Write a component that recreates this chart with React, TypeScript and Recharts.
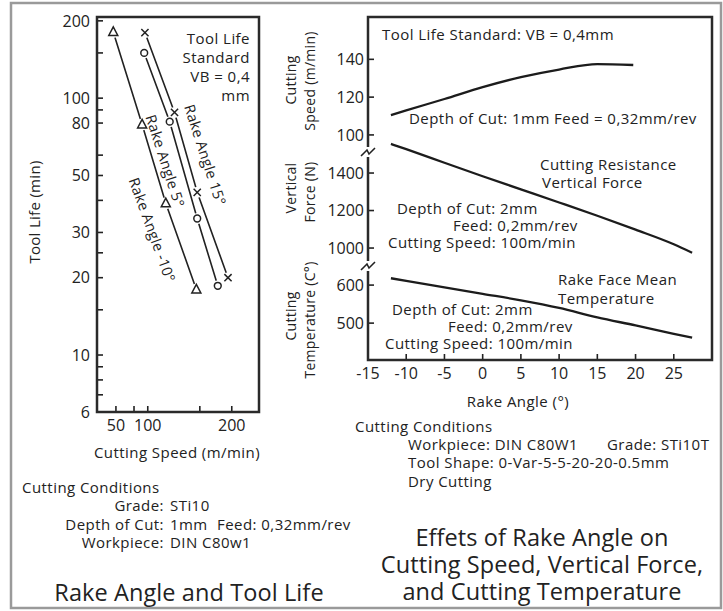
import React from 'react';
import { LineChart, Line, XAxis, YAxis } from 'recharts';

// ---------- Left chart: Rake Angle and Tool Life ----------
const speedRake15 = [96, 135, 162, 196];
const lifeRake15 = [180, 88, 43, 20];
const speedRake5 = [95, 129, 162, 185];
const lifeRake5 = [150, 81, 34, 18.6];
const speedRakeM10 = [45, 92, 124, 161];
const lifeRakeM10 = [181, 79, 39, 18];
const lifeTicks = [6, 7, 8, 9, 10, 15, 20, 25, 30, 40, 50, 60, 80, 90, 100, 150, 200];
const lifeTickLabels = [6, 10, 20, 30, 50, 80, 100, 200];
const speedTicks = [50, 80, 100, 165, 200];
const speedTickLabels = [50, 100, 200];

// ---------- Right chart: effects of rake angle ----------
const speedAngles = [-12, -10, -5, 0, 5, 10, 15, 19.7];
const cuttingSpeed = [110.5, 113, 119, 125.3, 130.6, 134.6, 137.5, 137];
const forceAngles = [-12, -10, -5, 0, 5, 10, 15, 20, 25, 27.4];
const verticalForce = [1555, 1527, 1455, 1383, 1313, 1243, 1172, 1098, 1020, 975];
const temperature = [618, 611, 594, 577, 560, 540, 515, 494, 472, 462];
const rakeTicks = [-15, -10, -5, 0, 5, 10, 15, 20, 25];
const speedYTicks = [100, 120, 140];
const forceYTicks = [1000, 1200, 1400];
const tempYTicks = [500, 600];

const FONT = '"Open Sans", "Noto Sans", sans-serif';
const INK = '#222';

const toPts = (xs: number[], ys: number[]) => xs.map((s, i) => ({ speed: s, life: ys[i] }));
const toAng = (xs: number[], ys: number[]) => xs.map((a, i) => ({ angle: a, v: ys[i] }));

function powScale(exp: number): any {
  let d = [1, 2];
  let r = [0, 1];
  const f = (v: number) => Math.sign(v) * Math.pow(Math.abs(v), exp);
  const s: any = (v: any) => {
    const t = (f(+v) - f(d[0])) / (f(d[1]) - f(d[0]));
    return r[0] + t * (r[1] - r[0]);
  };
  s.domain = (x?: any) => {
    if (x === undefined) return d.slice();
    d = Array.from(x).map(Number);
    return s;
  };
  s.range = (x?: any) => {
    if (x === undefined) return r.slice();
    r = Array.from(x).map(Number);
    return s;
  };
  s.copy = () => powScale(exp).domain(d).range(r);
  s.invert = (px: number) => {
    const t = (px - r[0]) / (r[1] - r[0]);
    const u = f(d[0]) + t * (f(d[1]) - f(d[0]));
    return Math.sign(u) * Math.pow(Math.abs(u), 1 / exp);
  };
  s.ticks = (n = 5) => {
    const out: number[] = [];
    for (let i = 0; i <= n; i++) out.push(d[0] + ((d[1] - d[0]) * i) / n);
    return out;
  };
  s.tickFormat = () => (v: any) => String(v);
  s.nice = () => s;
  s.clamp = () => s;
  return s;
}

const makeLeftTick = (labels: number[], len: number, gap: number) => (props: any) => {
  const { x, y, payload } = props;
  const v = payload.value;
  return (
    <g>
      <line x1={x} y1={y} x2={x + len} y2={y} stroke={INK} strokeWidth={1.6} />
      {labels.includes(v) && (
        <text x={x - gap} y={y} dy="0.36em" textAnchor="end" fontFamily={FONT} fontSize={16} fill={INK}>
          {v}
        </text>
      )}
    </g>
  );
};

const makeBottomTick = (labels: number[], len: number, off: number, skipLine: number[]) => (props: any) => {
  const { x, y, payload } = props;
  const v = payload.value;
  return (
    <g>
      {!skipLine.includes(v) && <line x1={x} y1={y} x2={x} y2={y - len} stroke={INK} strokeWidth={1.6} />}
      {labels.includes(v) && (
        <text x={x} y={y + off} dy="0.36em" textAnchor="middle" fontFamily={FONT} fontSize={16} fill={INK}>
          {v}
        </text>
      )}
    </g>
  );
};

const crossDot = (p: any) => {
  const { cx, cy, index } = p;
  const a = 3.6;
  return (
    <g key={`c${index}`}>
      <circle cx={cx} cy={cy} r={5.5} fill="#fff" />
      <path d={`M${cx - a},${cy - a}L${cx + a},${cy + a}M${cx - a},${cy + a}L${cx + a},${cy - a}`} stroke={INK} strokeWidth={1.5} />
    </g>
  );
};
const circleDot = (p: any) => {
  const { cx, cy, index } = p;
  return (
    <g key={`o${index}`}>
      <circle cx={cx} cy={cy} r={5.5} fill="#fff" />
      <circle cx={cx} cy={cy} r={3.4} fill="#fff" stroke={INK} strokeWidth={1.5} />
    </g>
  );
};
const triDot = (p: any) => {
  const { cx, cy, index } = p;
  return (
    <g key={`t${index}`}>
      <circle cx={cx} cy={cy} r={6} fill="#fff" />
      <path d={`M${cx},${cy - 5}L${cx + 4.5},${cy + 3.5}L${cx - 4.5},${cy + 3.5}Z`} fill="#fff" stroke={INK} strokeWidth={1.5} />
    </g>
  );
};

function RightChart({ data, domain, ticks, showX }: { data: any[]; domain: number[]; ticks: number[]; showX: boolean }) {
  return (
    <div style={{ position: 'absolute', left: 0, top: 0 }}>
      <LineChart width={723} height={400} margin={{ top: 17, right: 11, bottom: 0, left: 308 }}>
        <XAxis
          type="number"
          dataKey="angle"
          domain={[-15, 30]}
          ticks={rakeTicks}
          interval={0}
          allowDataOverflow
          height={40}
          axisLine={false}
          tickLine={false}
          tickSize={0}
          tickMargin={0}
          tick={showX ? makeBottomTick(rakeTicks, 6, 13, [-15]) : false}
        />
        <YAxis
          type="number"
          domain={domain}
          ticks={ticks}
          interval={0}
          allowDataOverflow
          width={60}
          axisLine={false}
          tickLine={false}
          tickSize={0}
          tickMargin={0}
          tick={makeLeftTick(ticks, 6, 4)}
        />
        <Line
          data={data}
          dataKey="v"
          type="monotone"
          stroke="#1c1c1c"
          strokeWidth={2.3}
          dot={false}
          isAnimationActive={false}
        />
      </LineChart>
    </div>
  );
}

type TItem = { t: string; x: number; y: number; a?: 'start' | 'middle' | 'end'; fs?: number; rot?: number; ls?: number };

const texts: TItem[] = [
  // left plot annotation
  { t: 'Tool Life', x: 250, y: 44, a: 'end' },
  { t: 'Standard', x: 250, y: 63, a: 'end' },
  { t: 'VB = 0,4', x: 250, y: 82, a: 'end' },
  { t: 'mm', x: 250, y: 101, a: 'end' },
  { t: 'Cutting Speed (m/min)', x: 177, y: 458, a: 'middle' },
  { t: 'Cutting Conditions', x: 22, y: 493 },
  { t: 'Grade:', x: 164, y: 511, a: 'end' },
  { t: 'STi10', x: 170, y: 511 },
  { t: 'Depth of Cut:', x: 164, y: 530, a: 'end' },
  { t: '1mm', x: 170, y: 530 },
  { t: 'Feed: 0,32mm/rev', x: 217, y: 530 },
  { t: 'Workpiece:', x: 164, y: 548, a: 'end' },
  { t: 'DIN C80w1', x: 170, y: 548 },
  { t: 'Rake Angle and Tool Life', x: 189, y: 601, a: 'middle', fs: 23.5, ls: 0.1 },
  // right plot annotations
  { t: 'Tool Life Standard: VB = 0,4mm', x: 382, y: 40 },
  { t: 'Depth of Cut: 1mm Feed = 0,32mm/rev', x: 409, y: 124 },
  { t: 'Cutting Resistance', x: 540, y: 170 },
  { t: 'Vertical Force', x: 542, y: 188 },
  { t: 'Depth of Cut: 2mm', x: 397, y: 214 },
  { t: 'Feed: 0,2mm/rev', x: 453, y: 231 },
  { t: 'Cutting Speed: 100m/min', x: 388, y: 248 },
  { t: 'Rake Face Mean', x: 558, y: 285 },
  { t: 'Temperature', x: 558, y: 304 },
  { t: 'Depth of Cut: 2mm', x: 392, y: 315 },
  { t: 'Feed: 0,2mm/rev', x: 448, y: 332 },
  { t: 'Cutting Speed: 100m/min', x: 385, y: 349 },
  { t: 'Rake Angle (°)', x: 518, y: 407, a: 'middle' },
  { t: 'Cutting Conditions', x: 355, y: 432 },
  { t: 'Workpiece: DIN C80W1', x: 408, y: 450 },
  { t: 'Grade: STi10T', x: 607, y: 450 },
  { t: 'Tool Shape: 0-Var-5-5-20-20-0.5mm', x: 408, y: 468 },
  { t: 'Dry Cutting', x: 408, y: 487 },
  { t: 'Effets of Rake Angle on', x: 542, y: 546, a: 'middle', fs: 23.5, ls: 0.1 },
  { t: 'Cutting Speed, Vertical Force,', x: 542, y: 573, a: 'middle', fs: 23.5, ls: 0.1 },
  { t: 'and Cutting Temperature', x: 542, y: 600, a: 'middle', fs: 23.5, ls: 0.1 },
];

const rotTexts: TItem[] = [
  { t: 'Tool Life (min)', x: 35, y: 212, rot: -90, fs: 15 },
  { t: 'Cutting', x: 291, y: 80, rot: -90, fs: 14 },
  { t: 'Speed (m/min)', x: 310, y: 81, rot: -90, fs: 14 },
  { t: 'Vertical', x: 291, y: 188, rot: -90, fs: 14 },
  { t: 'Force (N)', x: 310, y: 192, rot: -90, fs: 14 },
  { t: 'Cutting', x: 291, y: 316, rot: -90, fs: 14 },
  { t: 'Temperature (C°)', x: 310, y: 320, rot: -90, fs: 14 },
  { t: 'Rake Angle 15°', x: 205, y: 155, rot: 72, fs: 14.5 },
  { t: 'Rake Angle 5°', x: 165, y: 161, rot: 72, fs: 14.5 },
  { t: 'Rake Angle -10°', x: 152, y: 230, rot: 70, fs: 14.5 },
];

export default function App() {
  const leftTickY = makeLeftTick(lifeTickLabels, 6, 7);
  const leftTickX = makeBottomTick(speedTickLabels, 6, 13, []);
  return (
    <div style={{ position: 'absolute', left: 0, top: 0, width: 723, height: 611, background: '#fff', overflow: 'hidden' }}>
      <div style={{ position: 'absolute', left: 0, top: 0 }}>
        <LineChart width={300} height={440} margin={{ top: 17, right: 41, bottom: 0, left: 37 }}>
          <XAxis
            type="number"
            dataKey="speed"
            scale={powScale(1.4)}
            domain={[3.6, 228]}
            ticks={speedTicks}
            interval={0}
            allowDataOverflow
            height={28}
            axisLine={false}
            tickLine={false}
            tickSize={0}
            tickMargin={0}
            tick={leftTickX}
          />
          <YAxis
            type="number"
            scale="log"
            domain={[6, 207]}
            ticks={lifeTicks}
            interval={0}
            allowDataOverflow
            width={60}
            axisLine={false}
            tickLine={false}
            tickSize={0}
            tickMargin={0}
            tick={leftTickY}
          />
          <Line data={toPts(speedRakeM10, lifeRakeM10)} dataKey="life" type="linear" stroke={INK} strokeWidth={1.6} dot={triDot} isAnimationActive={false} />
          <Line data={toPts(speedRake5, lifeRake5)} dataKey="life" type="linear" stroke={INK} strokeWidth={1.6} dot={circleDot} isAnimationActive={false} />
          <Line data={toPts(speedRake15, lifeRake15)} dataKey="life" type="linear" stroke={INK} strokeWidth={1.6} dot={crossDot} isAnimationActive={false} />
        </LineChart>
      </div>
      <RightChart data={toAng(speedAngles, cuttingSpeed)} domain={[-19.1, 162.4]} ticks={speedYTicks} showX={true} />
      <RightChart data={toAng(forceAngles, verticalForce)} domain={[403, 2232]} ticks={forceYTicks} showX={false} />
      <RightChart data={toAng(forceAngles, temperature)} domain={[403, 1305]} ticks={tempYTicks} showX={false} />
      <svg width={723} height={611} style={{ position: 'absolute', left: 0, top: 0, pointerEvents: 'none' }}>
        <rect x={11} y={3} width={710} height={605} fill="none" stroke="#9a9a9a" strokeWidth={2.5} />
        <rect x={97} y={17} width={162} height={395} fill="none" stroke="#2a2a2a" strokeWidth={2.5} />
        <rect x={368} y={17} width={344} height={343} fill="none" stroke="#2a2a2a" strokeWidth={2.5} />
        {[152, 266].map((by) => (
          <g key={by}>
            <rect x={364} y={by - 5} width={8} height={10} fill="#fff" />
            <path d={`M361,${by + 4} L367,${by - 2} L369,${by + 2} L375,${by - 4}`} fill="none" stroke={INK} strokeWidth={1.6} />
          </g>
        ))}
        {texts.map((d, i) => (
          <text
            key={i}
            x={d.x}
            y={d.y}
            textAnchor={d.a || 'start'}
            fontFamily={FONT}
            fontSize={d.fs || 15}
            letterSpacing={d.ls !== undefined ? d.ls : 0.45}
            fill={INK}
          >
            {d.t}
          </text>
        ))}
        {rotTexts.map((d, i) => (
          <text
            key={`r${i}`}
            transform={`translate(${d.x},${d.y}) rotate(${d.rot})`}
            textAnchor="middle"
            dy="0.35em"
            fontFamily={FONT}
            fontSize={d.fs || 15}
            letterSpacing={0.3}
            fill={INK}
          >
            {d.t}
          </text>
        ))}
      </svg>
    </div>
  );
}
